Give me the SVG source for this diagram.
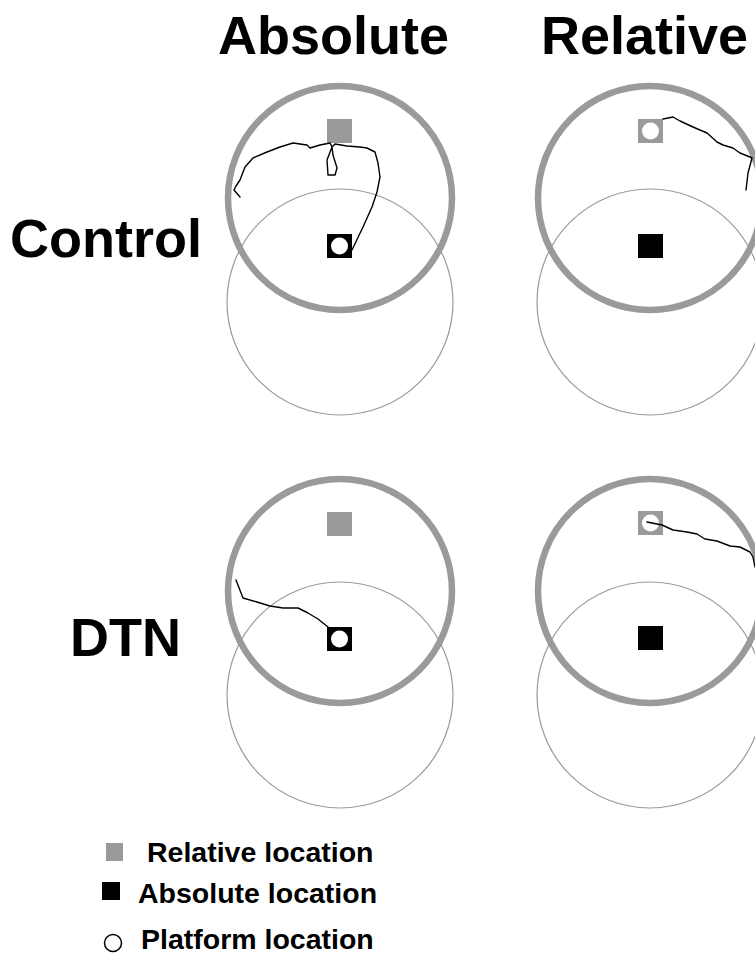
<svg xmlns="http://www.w3.org/2000/svg" width="755" height="959" viewBox="0 0 755 959">
  <style>
    .title { font-family: "Liberation Sans", Arial, sans-serif; font-weight: bold; font-size: 54px; fill: #000; }
    .legend { font-family: "Liberation Sans", Arial, sans-serif; font-weight: bold; font-size: 28.5px; fill: #000; }
    .pool { fill: none; stroke: #9a9a9a; stroke-width: 6.5; }
    .zone { fill: none; stroke: #9a9a9a; stroke-width: 1.2; }
    .rel { fill: #9a9a9a; }
    .abs { fill: #000; }
    .plat { fill: #fff; }
    .swim { fill: none; stroke: #000; stroke-width: 1.4; stroke-linejoin: round; stroke-linecap: round; }
  </style>
  <rect width="755" height="959" fill="#fff"/>

  <!-- column and row headings -->
  <text class="title" x="218" y="54">Absolute</text>
  <text class="title" x="541" y="54">Relative</text>
  <text class="title" x="10" y="257">Control</text>
  <text class="title" x="70" y="656">DTN</text>

  <!-- Control / Absolute -->
  <g id="control-absolute">
    <circle class="zone" cx="340" cy="302" r="113"/>
    <circle class="pool" cx="340" cy="198" r="112"/>
    <rect class="rel" x="327" y="119" width="25" height="24"/>
    <rect class="abs" x="327" y="234" width="25" height="24"/>
    <circle class="plat" cx="339.5" cy="246" r="8.5"/>
  </g>

  <!-- Control / Relative -->
  <g id="control-relative">
    <circle class="zone" cx="650" cy="302" r="113"/>
    <circle class="pool" cx="650" cy="198" r="112"/>
    <rect class="rel" x="638" y="119" width="25" height="24"/>
    <circle class="plat" cx="650.5" cy="131" r="8.5"/>
    <rect class="abs" x="638" y="234" width="25" height="24"/>
  </g>

  <!-- DTN / Absolute -->
  <g id="dtn-absolute">
    <circle class="zone" cx="340" cy="695" r="113"/>
    <circle class="pool" cx="340" cy="591" r="112"/>
    <rect class="rel" x="327" y="512" width="25" height="24"/>
    <rect class="abs" x="327" y="627" width="25" height="24"/>
    <circle class="plat" cx="339.5" cy="639" r="8.5"/>
  </g>

  <!-- DTN / Relative -->
  <g id="dtn-relative">
    <circle class="zone" cx="650" cy="695" r="113"/>
    <circle class="pool" cx="650" cy="591" r="112"/>
    <rect class="rel" x="638" y="511" width="25" height="24"/>
    <circle class="plat" cx="650.5" cy="523" r="8.5"/>
    <rect class="abs" x="638" y="626" width="25" height="24"/>
  </g>

  <!-- swim paths -->
  <g id="swim-paths">
    <polyline class="swim" points="240,197 234,190 236,186 240,180 245,167 253,158 267,152 280,147 293,143 307,145 310,148 320,145 330,143 332,147 327,160 328,175 335,175 337,168 333,155 332,147 335,144 347,146 360,147 367,148 375,152 378,163 380,177 377,192 372,207 363,227 352,250"/>
    <polyline class="swim" points="663,119 673,117 680,121 693,127 707,133 717,142 723,145 733,148 740,153 750,157 752,158 748,173 746,190"/>
    <polyline class="swim" points="236,580 243,598 257,602 270,606 283,608 298,608 308,613 318,619 328,627"/>
    <polyline class="swim" points="647,522 662,525 673,530 687,532 697,534 705,539 717,541 730,546 740,547 750,552 753,557 755,567"/>
  </g>

  <!-- legend -->
  <g id="legend">
    <rect class="rel" x="106" y="843" width="17" height="18"/>
    <text class="legend" x="147" y="862">Relative location</text>
    <rect class="abs" x="102" y="882" width="18" height="18"/>
    <text class="legend" x="138" y="903">Absolute location</text>
    <circle cx="113" cy="943" r="8.5" fill="#fff" stroke="#000" stroke-width="1.5"/>
    <text class="legend" x="141" y="949">Platform location</text>
  </g>
</svg>
